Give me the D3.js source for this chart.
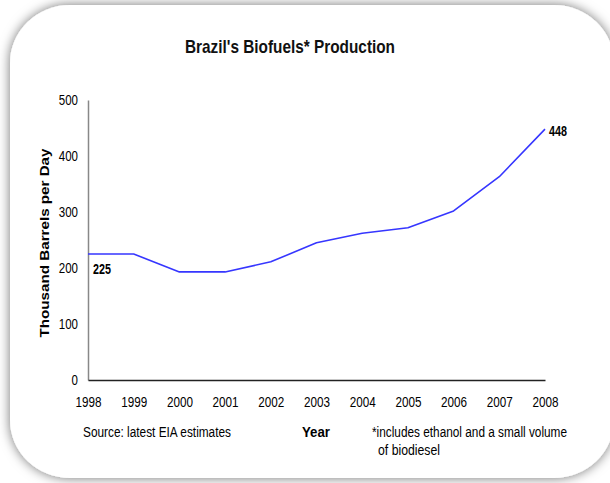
<!DOCTYPE html>
<html>
<head>
<meta charset="utf-8">
<script src="https://cdn.jsdelivr.net/npm/d3@7"></script>
<style>
  html, body { margin: 0; padding: 0; background: #fff; }
  svg { display: block; }
  text { font-family: "Liberation Sans Narrow", "Arial Narrow", "Liberation Sans", Arial, sans-serif; }
</style>
</head>
<body>
<svg id="chart" width="610" height="483"></svg>
<script>
// Brazil biofuels production, thousand barrels per day
const years = [1998, 1999, 2000, 2001, 2002, 2003, 2004, 2005, 2006, 2007, 2008];
const production = [225, 225, 193, 193, 211, 245, 262, 272, 302, 363, 448];
const yTicks = [0, 100, 200, 300, 400, 500];
const labelledPoints = [0, 10]; // indices of the first and last value

const svg = d3.select("#chart");

// Condense a text run to a set width (narrow face look)
function squeeze(sel, w) {
  sel.attr("textLength", w).attr("lengthAdjust", "spacingAndGlyphs");
}

// Card with a soft shadow
const defs = svg.append("defs");
const f = defs.append("filter").attr("id", "shadow")
  .attr("x", "-10%").attr("y", "-10%").attr("width", "120%").attr("height", "120%");
f.append("feDropShadow").attr("dx", 0).attr("dy", 0)
  .attr("stdDeviation", 6).attr("flood-color", "#000").attr("flood-opacity", 0.55);

svg.append("rect").attr("x", 10).attr("y", 5).attr("width", 604).attr("height", 473)
  .attr("rx", 60).attr("ry", 58).attr("fill", "#fff").attr("filter", "url(#shadow)");

const x = d3.scalePoint().domain(years).range([88, 545]);
const y = d3.scaleLinear().domain([0, 500]).range([380, 100]);

// Title
svg.append("text")
  .attr("x", 290).attr("y", 53).attr("text-anchor", "middle")
  .attr("font-size", 19).attr("font-weight", "bold").attr("fill", "#111")
  .text("Brazil's Biofuels* Production")
  .call(squeeze, 210);

// Y axis
const yAxis = svg.append("g").attr("transform", "translate(88,0)")
  .call(d3.axisLeft(y).tickValues(yTicks).tickSize(0).tickPadding(10));
yAxis.select(".domain").attr("stroke", "#888").attr("stroke-width", 1.5);
yAxis.selectAll(".tick text")
  .attr("font-size", 14).attr("fill", "#000")
  .each(function () { d3.select(this).call(squeeze, 6.4 * this.textContent.length); });

// X axis
const xAxis = svg.append("g").attr("transform", "translate(0,380)")
  .call(d3.axisBottom(x).tickSize(0).tickPadding(16));
xAxis.select(".domain").attr("stroke", "#222").attr("stroke-width", 1.5);
xAxis.selectAll(".tick text")
  .attr("font-size", 15).attr("fill", "#000")
  .call(squeeze, 26);

// Axis titles
svg.append("text")
  .attr("transform", "translate(49,243) rotate(-90)").attr("text-anchor", "middle")
  .attr("font-size", 13).attr("font-weight", "bold").attr("fill", "#000")
  .text("Thousand Barrels per Day")
  .call(squeeze, 189);

svg.append("text")
  .attr("x", 316).attr("y", 437).attr("text-anchor", "middle")
  .attr("font-size", 14).attr("font-weight", "bold").attr("fill", "#000")
  .text("Year")
  .call(squeeze, 28);

// Notes
svg.append("text")
  .attr("x", 83).attr("y", 437).attr("font-size", 14).attr("fill", "#000")
  .text("Source: latest EIA estimates")
  .call(squeeze, 148);
svg.append("text")
  .attr("x", 372).attr("y", 437).attr("font-size", 14).attr("fill", "#000")
  .text("*includes ethanol and a small volume")
  .call(squeeze, 195);
svg.append("text")
  .attr("x", 378).attr("y", 455).attr("font-size", 14).attr("fill", "#000")
  .text("of biodiesel")
  .call(squeeze, 62);

// Production line
const line = d3.line()
  .x((d, i) => x(years[i]))
  .y(d => y(d));
svg.append("path").datum(production)
  .attr("d", line).attr("fill", "none")
  .attr("stroke", "#3636ff").attr("stroke-width", 1.6)
  .attr("stroke-linejoin", "round");

// Value labels
const first = labelledPoints[0], last = labelledPoints[1];
svg.append("text")
  .attr("x", x(years[first]) + 5).attr("y", y(production[first]) + 20)
  .attr("font-size", 15).attr("font-weight", "bold").attr("fill", "#000")
  .text(production[first])
  .call(squeeze, 18);
svg.append("text")
  .attr("x", x(years[last]) + 4).attr("y", y(production[last]) + 7)
  .attr("font-size", 15).attr("font-weight", "bold").attr("fill", "#000")
  .text(production[last])
  .call(squeeze, 18);
</script>
</body>
</html>
